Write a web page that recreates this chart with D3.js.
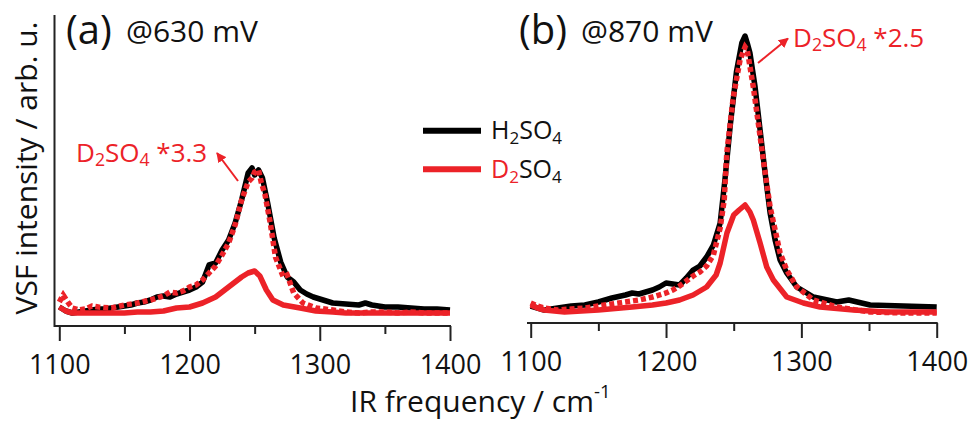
<!DOCTYPE html>
<html><head><meta charset="utf-8">
<script src="https://cdn.jsdelivr.net/npm/d3@7"></script>
<style>
html,body{margin:0;padding:0;background:#fff;}
svg{display:block;font-family:"Open Sans",Lato,sans-serif;}
</style></head>
<body>
<svg id="c" width="971" height="422"></svg>
<script>
// ---------- data (IR frequency in cm^-1, VSF intensity in arb. u.) ----------
const xTicks = [1100, 1200, 1300, 1400];
const xMinorTicks = [1150, 1250, 1350];
const panelTitles = ["(a)", "(b)"];
const panelPotentials = ["@630 mV", "@870 mV"];
const scaleLabels = ["*3.3", "*2.5"];

// panel (a) @630 mV
const aH2SO4 = [[1100,1.9],[1105,1.5],[1110,1.3],[1115,1.4],[1120,1.5],[1125,1.6],[1130,1.7],[1135,1.7],[1140,1.8],[1145,1.9],[1150,2.0],[1155,2.1],[1160,2.3],[1165,2.4],[1170,2.6],[1175,2.9],[1180,3.0],[1185,2.9],[1190,3.2],[1195,3.4],[1200,3.6],[1205,3.9],[1210,4.4],[1215,6.1],[1220,6.3],[1225,7.6],[1230,8.6],[1235,10.3],[1240,12.6],[1245,15.3],[1248,15.8],[1250,15.1],[1253,15.6],[1256,14.8],[1260,12.3],[1265,8.8],[1270,6.4],[1275,4.9],[1278,4.6],[1280,4.4],[1285,3.6],[1290,3.2],[1295,2.9],[1300,2.7],[1305,2.5],[1310,2.3],[1320,2.2],[1330,2.1],[1335,2.3],[1340,2.1],[1350,1.9],[1360,1.9],[1370,1.8],[1380,1.7],[1390,1.7],[1400,1.6]];
const aD2SO4 = [[1100,1.9],[1105,1.5],[1110,1.3],[1120,1.3],[1130,1.3],[1140,1.3],[1150,1.3],[1160,1.4],[1170,1.4],[1180,1.5],[1190,1.8],[1200,1.9],[1205,2.1],[1210,2.3],[1215,2.6],[1220,2.9],[1225,3.4],[1230,3.9],[1235,4.4],[1240,4.9],[1245,5.3],[1250,5.5],[1254,5.0],[1259,3.6],[1264,2.6],[1272,2.1],[1285,1.8],[1297,1.5],[1310,1.4],[1320,1.3],[1340,1.3],[1360,1.3],[1380,1.3],[1400,1.3]];
const aD2SO4x33 = [[1100,2.4],[1103,3.1],[1107,2.3],[1110,1.8],[1115,1.6],[1120,1.7],[1125,2.0],[1130,1.9],[1140,1.8],[1150,2.1],[1160,2.3],[1170,2.6],[1180,3.0],[1185,3.4],[1190,3.3],[1195,3.5],[1200,3.9],[1205,4.1],[1210,4.6],[1215,5.3],[1220,6.0],[1225,7.1],[1230,8.3],[1235,10.1],[1240,12.6],[1245,14.4],[1248,14.8],[1250,15.4],[1253,15.6],[1255,14.4],[1258,13.1],[1262,10.3],[1266,6.9],[1272,4.9],[1275,5.1],[1280,3.3],[1287,2.3],[1297,1.8],[1310,1.6],[1320,1.4],[1330,1.3],[1340,1.4],[1350,1.4],[1360,1.3],[1370,1.4],[1380,1.3],[1390,1.3],[1400,1.3]];

// panel (b) @870 mV
const bH2SO4 = [[1100,1.7],[1105,1.5],[1110,1.3],[1120,1.5],[1125,1.6],[1130,1.7],[1140,1.8],[1150,2.1],[1160,2.5],[1170,2.8],[1175,3.0],[1180,2.9],[1185,3.1],[1190,3.3],[1195,3.6],[1200,4.0],[1205,3.9],[1210,3.8],[1215,4.5],[1220,5.3],[1225,5.7],[1230,6.6],[1235,7.8],[1240,10.0],[1243.5,14.3],[1247.5,19.8],[1252,25.1],[1256,28.0],[1258.4,28.7],[1260,28.0],[1262,27.0],[1265.8,23.6],[1269.5,19.3],[1273.2,15.0],[1276.9,11.0],[1280.6,8.3],[1284.3,6.3],[1289.2,5.0],[1296.6,3.6],[1308.9,2.6],[1326.2,2.1],[1335,2.3],[1350.8,1.8],[1375.4,1.7],[1400,1.6]];
const bD2SO4 = [[1100,1.8],[1105,1.5],[1110,1.3],[1125,1.1],[1150,1.3],[1175,1.6],[1190,1.8],[1200,2.0],[1210,2.3],[1220,2.8],[1230,3.6],[1237,4.8],[1240,6.0],[1245,9.0],[1250,10.8],[1254,11.3],[1258.4,11.8],[1262,11.1],[1264.5,10.3],[1269.5,8.0],[1274.4,5.6],[1279.3,4.3],[1289.2,2.6],[1301.5,2.0],[1313.8,1.6],[1338.5,1.3],[1363,1.1],[1400,1.1]];
const bD2SO4x25 = [[1100,2.0],[1105,1.7],[1110,1.5],[1120,1.3],[1130,1.4],[1140,1.5],[1150,1.7],[1160,1.9],[1170,2.1],[1180,2.3],[1190,2.6],[1200,3.0],[1205,3.3],[1210,3.7],[1215,4.2],[1220,4.7],[1225,5.1],[1230,5.7],[1235,6.8],[1240,9.5],[1243,12.3],[1244.9,17.0],[1249.7,22.6],[1254.7,26.3],[1258.4,27.6],[1260,27.3],[1264.5,23.6],[1271.9,16.3],[1276.9,11.6],[1284.3,7.0],[1289.2,5.3],[1296.6,3.6],[1308.9,2.3],[1326.2,1.6],[1350.8,1.1],[1375.4,1.0],[1400,1.0]];

// ---------- drawing ----------
const RED = "#ec2228";
const svg = d3.select("#c");

const panels = [
  {h: aH2SO4, d: aD2SO4, ds: aD2SO4x33, x0: 59.3, x1: 450, axisY: 326, yAxis: true, domainStart: 54,
   title: [66, 44], pot: [126, 41.5], ann: [76, 161.5], arrow: [[238, 181], [217, 153]]},
  {h: bH2SO4, d: bD2SO4, ds: bD2SO4x25, x0: 530.7, x1: 936.7, axisY: 323, yAxis: false, domainStart: 527,
   title: [519, 44], pot: [581, 41.5], ann: [793, 46.5], arrow: [[758, 63], [788, 38.5]]}
];

const defs = svg.append("defs");
defs.append("marker").attr("id", "ah").attr("viewBox", "0 0 10 10")
  .attr("refX", 9).attr("refY", 5).attr("markerWidth", 5).attr("markerHeight", 5)
  .attr("orient", "auto").attr("markerUnits", "strokeWidth")
  .append("path").attr("d", "M0,0 L10,5 L0,10 z").attr("fill", RED);

function formula(sel, parts) {
  // parts: [text, isSub, color, resetBaseline]
  parts.forEach(p => {
    const t = sel.append("tspan").text(p[0]);
    if (p[2]) t.attr("fill", p[2]);
    if (p[1]) t.attr("font-size", "0.68em").attr("dy", "0.28em");
    else if (p[3]) t.attr("dy", "-0.19em");
  });
}

panels.forEach((p, i) => {
  const x = d3.scaleLinear().domain([1100, 1400]).range([p.x0, p.x1]);
  const y = d3.scaleLinear().domain([0, 30]).range([p.axisY, p.axisY - 300]);
  const g = svg.append("g");

  // x axis
  const ax = g.append("g").attr("transform", `translate(0,${p.axisY})`)
    .call(d3.axisBottom(x).tickValues(xTicks).tickSize(15).tickSizeOuter(0).tickPadding(14).tickFormat(d3.format("d")));
  ax.select(".domain").remove();
  ax.selectAll(".tick line").attr("stroke", "#222").attr("stroke-width", 2);
  ax.selectAll(".tick text").attr("font-size", 27).attr("fill", "#111").attr("font-family", "Open Sans");
  const axm = g.append("g").attr("transform", `translate(0,${p.axisY})`)
    .call(d3.axisBottom(x).tickValues(xMinorTicks).tickSize(8).tickFormat(""));
  axm.select(".domain").remove();
  axm.selectAll(".tick line").attr("stroke", "#222").attr("stroke-width", 2);
  g.append("line").attr("x1", p.domainStart).attr("x2", x(1400) + 1)
    .attr("y1", p.axisY).attr("y2", p.axisY).attr("stroke", "#222").attr("stroke-width", 2);
  if (p.yAxis) {
    g.append("line").attr("x1", p.domainStart + 0.5).attr("x2", p.domainStart + 0.5)
      .attr("y1", 15).attr("y2", p.axisY + 1).attr("stroke", "#222").attr("stroke-width", 2);
  }

  const line = d3.line().x(d => x(d[0])).y(d => y(d[1]));
  g.append("path").datum(p.h).attr("d", line).attr("fill", "none")
    .attr("stroke", "#000").attr("stroke-width", 5.5).attr("stroke-linejoin", "round");
  g.append("path").datum(p.d).attr("d", line).attr("fill", "none")
    .attr("stroke", RED).attr("stroke-width", 5.5).attr("stroke-linejoin", "round");
  g.append("path").datum(p.ds).attr("d", line).attr("fill", "none")
    .attr("stroke", RED).attr("stroke-width", 5.5).attr("stroke-dasharray", "5,3");

  // titles
  g.append("text").attr("x", p.title[0]).attr("y", p.title[1]).attr("font-size", 40)
    .attr("fill", "#111").text(panelTitles[i]);
  g.append("text").attr("x", p.pot[0]).attr("y", p.pot[1]).attr("font-size", 30)
    .attr("fill", "#111").text(panelPotentials[i]);

  // annotation
  const at = g.append("text").attr("x", p.ann[0]).attr("y", p.ann[1]).attr("font-size", 26).attr("fill", RED);
  formula(at, [["D"], ["2", true], ["SO", false, null, true], ["4", true], [" " + scaleLabels[i], false, null, true]]);
  g.append("line").attr("x1", p.arrow[0][0]).attr("y1", p.arrow[0][1])
    .attr("x2", p.arrow[1][0]).attr("y2", p.arrow[1][1])
    .attr("stroke", RED).attr("stroke-width", 2).attr("marker-end", "url(#ah)");
});

// legend
const legend = [["H", "#111"], ["D", RED]];
legend.forEach((l, i) => {
  const ly = 130.7 + i * 38.6;
  svg.append("line").attr("x1", 423).attr("x2", 481).attr("y1", ly).attr("y2", ly)
    .attr("stroke", i === 0 ? "#000" : RED).attr("stroke-width", 6);
  const t = svg.append("text").attr("x", 491).attr("y", ly + 8.5).attr("font-size", 25).attr("fill", "#111");
  formula(t, [[l[0], false, l[1]], ["2", true, l[1]], ["SO", false, "#111", true], ["4", true, "#111"]]);
});

// axis titles
svg.append("text").attr("transform", "translate(37,168) rotate(-90)").attr("text-anchor", "middle")
  .attr("font-size", 30).attr("fill", "#111").text("VSF intensity / arb. u.");
const xl = svg.append("text").attr("x", 350).attr("y", 412).attr("font-size", 30).attr("fill", "#111");
xl.append("tspan").text("IR frequency / cm");
xl.append("tspan").text("-1").attr("font-size", "0.62em").attr("dy", "-0.75em");
</script>
</body></html>
